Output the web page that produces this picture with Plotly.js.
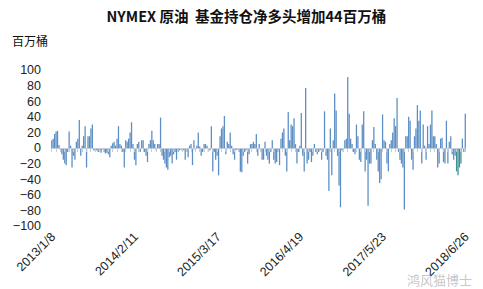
<!DOCTYPE html>
<html><head><meta charset="utf-8">
<script src="https://cdn.plot.ly/plotly-3.0.1.min.js"></script>
<style>html,body{margin:0;padding:0;background:#fff}#c{width:483px;height:289px}</style>
</head><body><div id="c"></div>
<script>
// Weekly net long change (million barrels), 2013/1/8 .. 2018/6/26
const netChange = [
 10, 12, 18, 21, 22, 4, -3, -8, -15, -20,
 -22, -5, 21, 3, -25, -10, -15, 8, 12, 36,
 -10, 3, 15, 28, -25, 15, 15, 25, 30, -3,
 -4, -3, -5, -3, -6, -2, -5, -7, -6, -8,
 -12, 3, 6, 8, 3, 12, 28, 5, 3, -5,
 -25, 10, 8, 12, 20, 33, 5, -15, -22, 5,
 8, -5, 10, 10, -5, -10, -18, 5, 10, 22,
 10, 5, -3, 5, 5, 39, -10, -15, -20, -25,
 -28, -12, -10, -20, -8, -5, -15, -5, -3, -2,
 -4, -3, -15, -5, -12, 3, 5, -22, 10, -3,
 3, 20, 2, -10, -5, 5, 5, 3, -5, -3,
 28, -30, -5, -15, -10, -35, 15, 25, 28, 41,
 -8, 8, 5, 20, 3, -8, -15, -3, -2, -5,
 -30, -31, -10, -5, -3, -20, -8, 5, 5, 8,
 5, 18, -10, 5, -3, -15, -15, 8, -10, -15,
 -20, -5, 10, -15, -20, -18, -5, -22, 12, 20,
 25, -10, -30, 46, 10, 30, 28, 38, 5, -20,
 -5, 3, 45, -10, -30, 77, -20, -15, -5, -18,
 -10, 5, -5, -8, -5, -3, -15, -5, 47, -10,
 -15, -55, 25, -35, 10, 70, 48, -10, -48, -76,
 -3, -5, 10, 12, 91, 44, 12, 5, -5, -8,
 30, 15, -15, -18, 30, 47, -30, -15, -74, -20,
 -20, 10, 27, 5, -15, -30, -45, -40, 43, 10,
 8, -20, -30, 5, 10, 20, 38, 28, 64, -5,
 -15, -20, -25, -79, 15, 15, 40, 35, -15, -28,
 15, 25, 55, 35, 48, -20, 30, 3, -15, 28,
 5, 30, 48, 15, 15, 5, -25, -20, 12, 13,
 -18, -20, 35, -20, 8, 15, -8, -15, -10, -30,
 -35, -25, -20, 12, -5, 44
];
const tickWeeks = [0, 57, 114, 171, 228, 285];
const tickLabels = ['2013/1/8', '2014/2/11', '2015/3/17', '2016/4/19', '2017/5/23', '2018/6/26'];
const highlightWeeks = [279, 280, 281, 282];

const weekIdx = netChange.map((_, i) => i);
const colors = weekIdx.map(i => highlightWeeks.includes(i) ? '#3f8f98' : '#5b8ec4');

const trace = {
  type: 'bar', x: weekIdx, y: netChange,
  marker: {color: colors, line: {width: 0}},
  hoverinfo: 'none'
};
const zeroTrace = {type: 'scatter', x: [0], y: [0], xaxis: 'x2', mode: 'markers', marker: {opacity: 0}, hoverinfo: 'none', showlegend: false};

const layout = {
  width: 483, height: 289,
  margin: {l: 51, r: 17, t: 70, b: 63},
  paper_bgcolor: '#fff', plot_bgcolor: '#fff',
  showlegend: false,
  bargap: 0.12,
  font: {family: 'Liberation Sans, Arial, sans-serif', size: 12, color: '#222'},
  title: {text: 'NYMEX 原油  基金持仓净多头增加44百万桶', x: 0.51, xanchor: 'center', y: 0.94, yanchor: 'middle',
          font: {family: 'Noto Sans CJK SC, sans-serif', size: 14.5, color: '#111', weight: 'bold'}},
  xaxis: {
    range: [-0.5, 285.5], tickmode: 'array', tickvals: tickWeeks, ticktext: tickLabels,
    tickangle: -45, showgrid: false, zeroline: false, showline: false, ticks: '',
    tickfont: {size: 12.5, color: '#222'}, fixedrange: true
  },
  xaxis2: {
    overlaying: 'x', matches: 'x', anchor: 'free', position: 0.5, side: 'bottom',
    showline: true, linecolor: '#c3ccd9', linewidth: 1,
    ticks: 'outside', ticklen: 3, tickwidth: 1, tickcolor: '#c3ccd9',
    tickmode: 'linear', tick0: 0, dtick: 3, showticklabels: false, showgrid: false, zeroline: false
  },
  yaxis: {
    range: [-100, 100], tickmode: 'linear', tick0: -100, dtick: 20,
    showgrid: false, zeroline: false, showline: false, ticks: '',
    tickfont: {size: 12.5, color: '#222'}, ticklabelstandoff: 9, fixedrange: true
  },
  annotations: [
    {text: '百万桶', xref: 'paper', yref: 'paper', x: -0.098, y: 1.19, xanchor: 'left', yanchor: 'middle',
     showarrow: false, font: {family: 'Noto Sans CJK SC, sans-serif', size: 12, color: '#111'}},
    {text: '鸿风猫博士', xref: 'paper', yref: 'paper', x: 1.02, y: -0.34, xanchor: 'right', yanchor: 'middle',
     showarrow: false, font: {family: 'Noto Sans CJK SC, sans-serif', size: 13, color: 'rgba(150,150,150,0.55)'}}
  ]
};
Plotly.newPlot('c', [trace, zeroTrace], layout, {staticPlot: true, displayModeBar: false});
</script>
</body></html>
